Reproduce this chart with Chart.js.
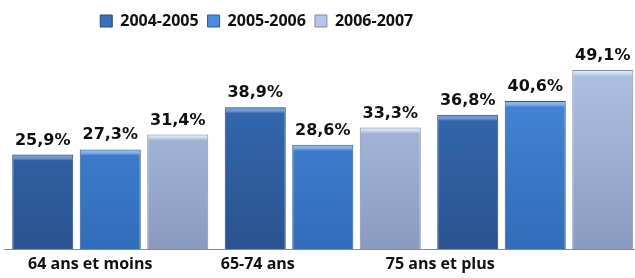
<!DOCTYPE html>
<html>
<head>
<meta charset="utf-8">
<script src="https://cdn.jsdelivr.net/npm/chart.js@4/dist/chart.umd.min.js"></script>
<style>
  html, body { margin: 0; padding: 0; background: #ffffff; overflow: hidden; }
  #wrap { position: relative; width: 646px; height: 278px; }
</style>
</head>
<body>
<div id="wrap"><canvas id="c"></canvas></div>
<script>
const categories = ["64 ans et moins", "65-74 ans", "75 ans et plus"];
const seriesNames = ["2004-2005", "2005-2006", "2006-2007"];
const values2004 = [25.9, 38.9, 36.8];
const values2005 = [27.3, 28.6, 40.6];
const values2006 = [31.4, 33.3, 49.1];

// gradient stops per series (top, bottom)
const seriesColors = [
  ["#3870bb", "#2a5390"],
  ["#4a8de0", "#316cb8"],
  ["#b3c7e8", "#8a9bbf"]
];
const highlightColors = ["#5d92d8", "#7fb3f0", "#dde8f8"];
const borderColors = ["#22467c", "#2c599a", "#7d8dac"];
// small per-category nudges of the axis captions (as in the source picture)
const captionNudge = [-20, -65, -95];

function gradFor(i) {
  return function (ctx) {
    const chart = ctx.chart;
    const area = chart.chartArea;
    if (!area) return seriesColors[i][1];
    const g = chart.ctx.createLinearGradient(0, area.top, 0, area.bottom);
    g.addColorStop(0, seriesColors[i][0]);
    g.addColorStop(1, seriesColors[i][1]);
    return g;
  };
}

const allValues = [values2004, values2005, values2006];

// light bevel on top of each bar, like the source picture
const bevel = {
  id: "bevel",
  afterDatasetsDraw(chart) {
    const c = chart.ctx;
    c.save();
    chart.data.datasets.forEach((ds, di) => {
      const meta = chart.getDatasetMeta(di);
      meta.data.forEach((bar) => {
        const l = bar.x - bar.width / 2 + 1, r = bar.x + bar.width / 2 - 1;
        const g = c.createLinearGradient(0, bar.y + 1, 0, bar.y + 6);
        g.addColorStop(0, highlightColors[di]);
        g.addColorStop(1, "rgba(255,255,255,0)");
        c.fillStyle = g;
        c.fillRect(l, bar.y + 1, r - l, 5);
      });
    });
    c.restore();
  }
};

const valueLabels = {
  id: "valueLabels",
  afterDatasetsDraw(chart) {
    const c = chart.ctx;
    c.save();
    c.font = "bold 16px 'DejaVu Sans'";
    c.fillStyle = "#111111";
    c.textAlign = "center";
    c.textBaseline = "alphabetic";
    chart.data.datasets.forEach((ds, di) => {
      const meta = chart.getDatasetMeta(di);
      meta.data.forEach((bar, i) => {
        const txt = ds.data[i].toFixed(1).replace(".", ",") + "%";
        c.fillText(txt, bar.x, bar.y - 10);
      });
    });
    c.restore();
  }
};

const captions = {
  id: "captions",
  afterDraw(chart) {
    const c = chart.ctx;
    const xs = chart.scales.x;
    c.save();
    c.font = "bold 16px 'Open Sans'";
    c.fillStyle = "#111111";
    c.textAlign = "center";
    c.textBaseline = "middle";
    categories.forEach((lab, i) => {
      c.fillText(lab, xs.getPixelForValue(i) + captionNudge[i], 264);
    });
    c.restore();
  }
};

// legend sits left of centre in the source picture
const legendShift = {
  id: "legendShift",
  afterLayout(chart) {
    chart.legend.left -= 132;
  }
};

new Chart(document.getElementById("c"), {
  type: "bar",
  data: {
    labels: categories,
    datasets: seriesNames.map((n, i) => ({
      label: n,
      data: allValues[i],
      backgroundColor: gradFor(i),
      borderColor: borderColors[i],
      borderWidth: 1,
      categoryPercentage: 0.953,
      barPercentage: 0.904
    }))
  },
  options: {
    responsive: true,
    maintainAspectRatio: false,
    animation: false,
    layout: { padding: { left: 4, right: 4.5, top: 4, bottom: 21 } },
    plugins: {
      legend: {
        position: "top",
        labels: {
          font: { family: "'Open Sans'", size: 16, weight: "bold" },
          color: "#111111",
          boxWidth: 12,
          boxHeight: 12,
          padding: 9
        }
      },
      tooltip: { enabled: false }
    },
    scales: {
      x: {
        grid: { display: false },
        border: { display: true, color: "#8c8c8c", width: 1 },
        ticks: { display: false }
      },
      y: {
        display: false,
        min: 0,
        max: 57.6
      }
    }
  },
  plugins: [bevel, valueLabels, captions, legendShift]
});
</script>
</body>
</html>
